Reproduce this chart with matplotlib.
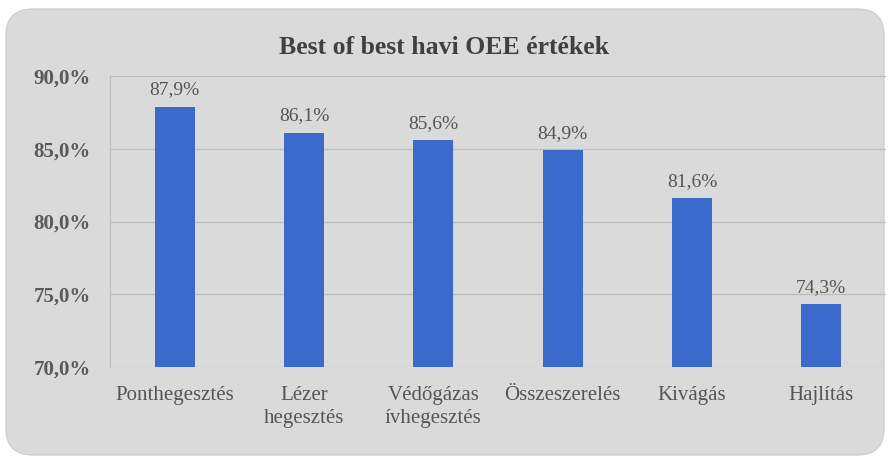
import matplotlib
matplotlib.use("Agg")
import matplotlib.pyplot as plt
from matplotlib.patches import FancyBboxPatch

categories = ["Ponthegesztés", "Lézer\nhegesztés", "Védőgázas\nívhegesztés", "Összeszerelés", "Kivágás", "Hajlítás"]
values = [87.9, 86.1, 85.6, 84.9, 81.6, 74.3]
yticks = [70, 75, 80, 85, 90]
title = "Best of best havi OEE értékek"

plt.rcParams['font.family'] = ['Liberation Serif', 'DejaVu Serif']

fig = plt.figure(figsize=(8.88, 4.59), dpi=100)
fig.patch.set_facecolor("white")
bg = FancyBboxPatch((6/888, 4/459), 878/888, 446/459,
                    boxstyle="round,pad=0,rounding_size=0.03",
                    transform=fig.transFigure, facecolor="#dadada",
                    edgecolor="#cfcfcf", linewidth=1.0, zorder=-10,
                    mutation_aspect=888/459)
fig.patches.append(bg)

ax = fig.add_axes([110/888, 92/459, 776/888, 291/459])
ax.set_zorder(1)
ax.set_facecolor("none")
x = range(len(categories))
ax.bar(x, values, width=0.31, color="#3a6bcc", zorder=3, bottom=0)
ax.set_ylim(70, 90)
ax.set_xlim(-0.5, len(categories) - 0.5)
ax.set_yticks(yticks)
ax.set_yticklabels([f"{v:.1f}%".replace(".", ",") for v in yticks],
                   fontsize=15, fontweight="bold", color="#5a5a5a")
ax.set_xticks(list(x))
ax.set_xticklabels(categories, fontsize=15, color="#555555", linespacing=1.25)
ax.tick_params(axis="both", length=0)
ax.tick_params(axis="y", pad=14)
ax.tick_params(axis="x", pad=14)
ax.grid(axis="y", color="#bdbdbd", linewidth=0.9, zorder=0)
for s in ["top", "right", "bottom"]:
    ax.spines[s].set_visible(False)
ax.spines["left"].set_color("#bdbdbd")
for xi, v in zip(x, values):
    ax.annotate(f"{v:.1f}%".replace(".", ","), (xi, v), xytext=(0, 12),
                textcoords="offset points", ha="center", va="center",
                fontsize=14, color="#555555")
fig.text(0.5, 411/459, title, ha="center", va="center", fontsize=18.5,
         fontweight="bold", color="#404040")
fig.savefig("out.png", dpi=100)
